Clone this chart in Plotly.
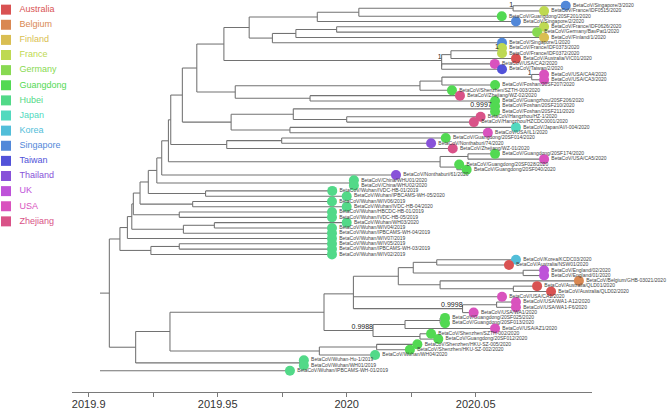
import plotly.graph_objects as go

# ---------------- data ----------------
regions = ["Australia", "Belgium", "Finland", "France", "Germany", "Guangdong", "Hubei",
           "Japan", "Korea", "Singapore", "Taiwan", "Thailand", "UK", "USA", "Zhejiang"]

tip_names = [
    "BetaCoV/Singapore/3/2020", "BetaCoV/France/IDF0515/2020", "BetaCoV/Guangdong/20SF201/2020",
    "BetaCoV/Singapore/2/2020", "BetaCoV/France/IDF0626/2020", "BetaCoV/Germany/BavPat1/2020",
    "BetaCoV/Finland/1/2020", "BetaCoV/Singapore/1/2020", "BetaCoV/France/IDF0373/2020",
    "BetaCoV/France/IDF0372/2020", "BetaCoV/Australia/VIC01/2020", "BetaCoV/USA/CA2/2020",
    "BetaCoV/Taiwan/2/2020", "BetaCoV/USA/CA4/2020", "BetaCoV/USA/CA3/2020",
    "BetaCoV/Foshan/20SF207/2020", "BetaCoV/Shenzhen/SZTH-003/2020", "BetaCoV/Zhejiang/WZ-02/2020",
    "BetaCoV/Guangzhou/20SF206/2020", "BetaCoV/Foshan/20SF210/2020", "BetaCoV/Foshan/20SF211/2020",
    "BetaCoV/Hangzhou/HZ-1/2020", "BetaCoV/Hangzhou/HZCDC0001/2020", "BetaCoV/Japan/AI/I-004/2020",
    "BetaCoV/USA/IL1/2020", "BetaCoV/Guangdong/20SF014/2020", "BetaCoV/Nonthaburi/74/2020",
    "BetaCoV/Zhejiang/WZ-01/2020", "BetaCoV/Guangdong/20SF174/2020", "BetaCoV/USA/CA5/2020",
    "BetaCoV/Guangdong/20SF028/2020", "BetaCoV/Guangdong/20SF040/2020", "BetaCoV/Nonthaburi/61/2020",
    "BetaCoV/China/WHU01/2020", "BetaCoV/China/WHU02/2020", "BetaCoV/Wuhan/IVDC-HB-01/2019",
    "BetaCoV/Wuhan/IPBCAMS-WH-05/2020", "BetaCoV/Wuhan/WIV06/2019", "BetaCoV/Wuhan/IVDC-HB-04/2020",
    "BetaCoV/Wuhan/HBCDC-HB-01/2019", "BetaCoV/Wuhan/IVDC-HB-05/2019", "BetaCoV/Wuhan/WH03/2020",
    "BetaCoV/Wuhan/WIV04/2019", "BetaCoV/Wuhan/IPBCAMS-WH-04/2019", "BetaCoV/Wuhan/WIV07/2019",
    "BetaCoV/Wuhan/WIV05/2019", "BetaCoV/Wuhan/IPBCAMS-WH-03/2019", "BetaCoV/Wuhan/WIV02/2019",
    "BetaCoV/Korea/KCDC03/2020", "BetaCoV/Australia/NSW01/2020", "BetaCoV/England/02/2020",
    "BetaCoV/England/01/2020", "BetaCoV/Belgium/GHB-03021/2020", "BetaCoV/Australia/QLD01/2020",
    "BetaCoV/Australia/QLD02/2020", "BetaCoV/USA/CA1/2020", "BetaCoV/USA/WA1-A12/2020",
    "BetaCoV/USA/WA1-F6/2020", "BetaCoV/USA/WA1/2020", "BetaCoV/Guangdong/20SF025/2020",
    "BetaCoV/Guangdong/20SF013/2020", "BetaCoV/USA/AZ1/2020", "BetaCoV/Shenzhen/SZTH-002/2020",
    "BetaCoV/Guangdong/20SF012/2020", "BetaCoV/Shenzhen/HKU-SZ-005/2020", "BetaCoV/Shenzhen/HKU-SZ-002/2020",
    "BetaCoV/Wuhan/WH04/2020", "BetaCoV/Wuhan-Hu-1/2019", "BetaCoV/Wuhan/WH01/2019",
    "BetaCoV/Wuhan/IPBCAMS-WH-01/2019",
]

tip_regions = [
    "Singapore", "France", "Guangdong", "Singapore", "France", "Germany", "Finland", "Singapore",
    "France", "France", "Australia", "USA", "Taiwan", "USA", "USA", "Guangdong", "Guangdong",
    "Zhejiang", "Guangdong", "Guangdong", "Guangdong", "Zhejiang", "Zhejiang", "Japan", "USA",
    "Guangdong", "Thailand", "Zhejiang", "Guangdong", "USA", "Guangdong", "Guangdong", "Thailand",
    "Hubei", "Hubei", "Hubei", "Hubei", "Hubei", "Hubei", "Hubei", "Hubei", "Hubei", "Hubei",
    "Hubei", "Hubei", "Hubei", "Hubei", "Hubei", "Korea", "Australia", "UK", "UK", "Belgium",
    "Australia", "Australia", "USA", "USA", "USA", "USA", "Guangdong", "Guangdong", "USA",
    "Guangdong", "Guangdong", "Guangdong", "Guangdong", "Hubei", "Hubei", "Hubei", "Hubei",
]

tip_dates = [
    2020.0849, 2020.0765, 2020.0601, 2020.0656, 2020.0765, 2020.0738, 2020.0765, 2020.0602,
    2020.0602, 2020.0602, 2020.0656, 2020.0574, 2020.0602, 2020.0765, 2020.0765, 2020.0575,
    2020.0408, 2020.0439, 2020.0575, 2020.0575, 2020.0575, 2020.0519, 2020.0493, 2020.0656,
    2020.0547, 2020.0384, 2020.0327, 2020.0411, 2020.0575, 2020.0765, 2020.0436, 2020.0465,
    2020.0191, 2020.0028, 2020.0028, 2019.9944, 2020.0000, 2019.9943, 2020.0000, 2019.9943,
    2019.9943, 2020.0000, 2019.9943, 2019.9943, 2019.9943, 2019.9943, 2019.9943, 2019.9943,
    2020.0656, 2020.0629, 2020.0765, 2020.0765, 2020.0900, 2020.0738, 2020.0792, 2020.0602,
    2020.0656, 2020.0656, 2020.0492, 2020.0381, 2020.0381, 2020.0575, 2020.0327, 2020.0355,
    2020.0274, 2020.0245, 2020.0110, 2019.9834, 2019.9834, 2019.9780,
]

# internal nodes: name, date, children (tips referenced as "t<1-based index>")
node_names = [
    "root", "N1", "N2", "L127", "L131", "L133", "L140", "L148", "L156", "L161", "L168", "L170",
    "L182", "L196", "L224", "Na", "n317", "n358", "n513", "n272", "n296", "n336", "Nb", "n451",
    "n499", "nCT", "L235", "P", "P1", "CA43", "Q", "Z", "n293", "F", "HZ", "n290", "Y", "Y1",
    "X", "X1", "X2", "W", "A", "B", "C", "D", "D1", "E", "E1", "Nlow", "Hu", "N3", "LC", "HW",
    "HKU", "K", "K1", "Kx", "KorNSW", "Eng", "Ky", "QLD", "WA", "WA2", "G", "G1", "GD2",
    "G2",
]
node_dates = [
    2019.8979, 2019.9080, 2019.9121, 2019.9150, 2019.9167, 2019.9173, 2019.9199, 2019.9231,
    2019.9264, 2019.9283, 2019.9309, 2019.9318, 2019.9363, 2019.9419, 2019.9524, 2019.9622,
    2019.9886, 2020.0047, 2020.0645, 2019.9712, 2019.9803, 2019.9961, 2020.0368, 2020.0404,
    2020.0590, 2020.0368, 2019.9568, 2020.0284, 2020.0369, 2020.0717, 2019.9858, 2019.9552,
    2019.9793, 2020.0562, 2020.0000, 2019.9780, 2019.9535, 2019.9748, 2020.0362, 2020.0470,
    2020.0427, 2020.0013, 2019.9453, 2019.9403, 2019.9351, 2019.9367, 2019.9487, 2019.9241,
    2019.9351, 2019.9182, 2019.9819, 2019.9315, 2019.9912, 2019.9894, 2020.0116, 2020.0026,
    2020.0200, 2020.0258, 2020.0349, 2020.0684, 2020.0362, 2020.0646, 2020.0449,
    2020.0581, 2020.0102, 2020.0226, 2020.0362, 2020.0284,
]
node_children = [
    ["N1", "t70"], ["N2", "Nlow"], ["L127", "E"], ["L131", "t45"], ["L133", "D"], ["L140", "C"],
    ["L148", "B"], ["L156", "A"], ["L161", "W"], ["L168", "t33"], ["L170", "X"], ["L182", "Y"],
    ["L196", "Z"], ["L224", "L235"], ["Na", "Nb"], ["n317", "n272"], ["n358", "t4"],
    ["n513", "t3"], ["t1", "t2"], ["n296", "t8"], ["n336", "t7"], ["t5", "t6"], ["n451", "nCT"],
    ["n499", "t11"], ["t9", "t10"], ["t12", "t13"], ["P", "Q"], ["P1", "t17"], ["CA43", "t16"],
    ["t14", "t15"], ["t18", "t19"], ["n293", "n290"], ["F", "HZ"], ["t20", "t21"], ["t22", "t23"],
    ["t24", "t25"], ["Y1", "t28"], ["t26", "t27"], ["X1", "X2"], ["t29", "t30"], ["t31", "t32"],
    ["t34", "t35"], ["t36", "t37"], ["t38", "t39"], ["t40", "t41"], ["D1", "t44"], ["t42", "t43"],
    ["E1", "t48"], ["t46", "t47"], ["N3", "Hu"], ["t68", "t69"], ["LC", "HW"], ["K", "G"],
    ["HKU", "t67"], ["t65", "t66"], ["K1", "t56", "WA"], ["Kx", "Ky"], ["KorNSW", "Eng"],
    ["t49", "t50"], ["t51", "t52"], ["t53", "QLD"], ["t54", "t55"], ["WA2", "t59"], ["t57", "t58"],
    ["G1", "G2"], ["GD2", "t62"], ["t60", "t61"], ["t63", "t64"],
]
root_stem_date = 2019.8962

support_nodes = ["n513", "n499", "Nb", "CA43", "F", "WA", "G"]
support_labels = ["1", "1", "1", "1", "0.9997", "0.9998", "0.9988"]

tick_values = [2019.9, 2019.925, 2019.95, 2019.975, 2020.0, 2020.025, 2020.05]
tick_labels = ["2019.9", "", "2019.95", "", "2020", "", "2020.05"]

# ---------------- styles ----------------
region_colors = ["#D95252", "#D98852", "#D9BE52", "#BED952", "#88D952", "#52D952", "#52D988",
                 "#52D9BE", "#52BED9", "#5288D9", "#5252D9", "#8852D9", "#BE52D9", "#D952BE",
                 "#D95288"]
color_of = dict(zip(regions, region_colors))
FONT = "Liberation Sans, Arial, Helvetica, sans-serif"
W, H = 667, 410
PLOT_H = 394
X0, X1 = 72, 592          # pixel extent of the time axis
TIP0_PX, TIP_STEP = 5.7, 5.319

# ---------------- tree layout ----------------
xpos, ypos, children = {}, {}, {}
for i, d in enumerate(tip_dates):
    xpos[f"t{i+1}"] = d
    ypos[f"t{i+1}"] = i
for n, d, ch in zip(node_names, node_dates, node_children):
    xpos[n] = d
    children[n] = ch


def get_y(n):
    if n in ypos:
        return ypos[n]
    ys = [get_y(c) for c in children[n]]
    ypos[n] = sum(ys) / len(ys)
    return ypos[n]


get_y("root")

lx, ly = [], []
for n in node_names:
    cys = [ypos[c] for c in children[n]]
    lx += [xpos[n], xpos[n], None]
    ly += [min(cys), max(cys), None]
    for c in children[n]:
        lx += [xpos[n], xpos[c], None]
        ly += [ypos[c], ypos[c], None]
lx += [root_stem_date, xpos["root"], None]
ly += [ypos["root"], ypos["root"], None]

fig = go.Figure()
fig.add_trace(go.Scatter(x=lx, y=ly, mode="lines", line=dict(color="#727272", width=1.05),
                         hoverinfo="skip", showlegend=False))
fig.add_trace(go.Scatter(
    x=tip_dates, y=list(range(len(tip_dates))), mode="markers+text",
    marker=dict(size=10, color=[color_of[r] for r in tip_regions], line=dict(width=0)),
    text=tip_names, textposition="middle right",
    textfont=dict(family=FONT, size=5, color="#444444"),
    cliponaxis=False, showlegend=False, hoverinfo="text"))
fig.add_trace(go.Scatter(
    x=[xpos[n] for n in support_nodes], y=[ypos[n] for n in support_nodes],
    mode="text", text=support_labels, textposition="top left",
    textfont=dict(family=FONT, size=7, color="#222222"),
    cliponaxis=False, showlegend=False, hoverinfo="skip"))

# legend drawn on a pixel-unit helper axis
lg_y = [9.7 + 15.2 * i for i in range(len(regions))]
fig.add_trace(go.Scatter(
    x=[6] * len(regions), y=lg_y, mode="markers", xaxis="x2", yaxis="y2",
    marker=dict(symbol="square", size=10, color=region_colors, line=dict(width=0)),
    showlegend=False, hoverinfo="skip", cliponaxis=False))
fig.add_trace(go.Scatter(
    x=[19.5] * len(regions), y=lg_y, mode="text", xaxis="x2", yaxis="y2",
    text=regions, textposition="middle right",
    textfont=dict(family=FONT, size=9, color=region_colors),
    showlegend=False, hoverinfo="skip", cliponaxis=False))

px_per_year = 2580.0
x_lo = 2019.9 + (X0 - 88.7) / px_per_year
x_hi = 2019.9 + (X1 - 88.7) / px_per_year
y_top = -TIP0_PX / TIP_STEP
y_bot = (PLOT_H - TIP0_PX) / TIP_STEP

fig.update_layout(
    width=W, height=H, margin=dict(l=0, r=0, t=0, b=H - PLOT_H),
    paper_bgcolor="white", plot_bgcolor="white", showlegend=False,
    xaxis=dict(domain=[X0 / W, X1 / W], range=[x_lo, x_hi], showgrid=False, zeroline=False,
               showline=True, linecolor="#7a7a7a", linewidth=1, ticks="outside", ticklen=4,
               tickcolor="#7a7a7a", tickvals=tick_values, ticktext=tick_labels,
               ticklabelstandoff=-2,
               tickfont=dict(family=FONT, size=11, color="#333333")),
    yaxis=dict(domain=[0, 1], range=[y_bot, y_top], visible=False),
    xaxis2=dict(domain=[0, 100 / W], range=[0, 100], visible=False, anchor="y2"),
    yaxis2=dict(domain=[0, 1], range=[PLOT_H, 0], visible=False, anchor="x2"),
)

fig.write_html("out.html", config={"displayModeBar": False},
               post_script="document.body.style.margin='0';document.body.style.padding='0';document.body.style.overflow='hidden';")
